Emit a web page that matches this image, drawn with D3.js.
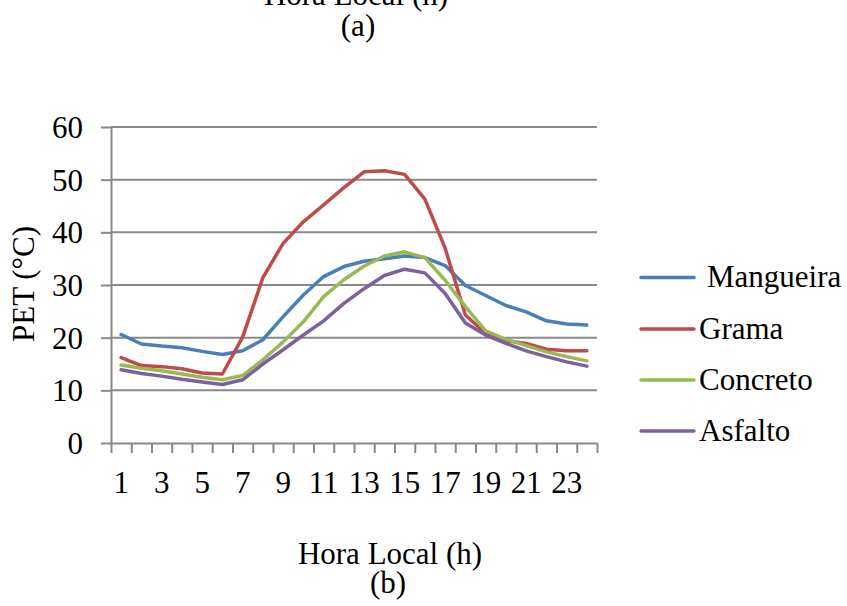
<!DOCTYPE html>
<html>
<head>
<meta charset="utf-8">
<script src="https://cdn.jsdelivr.net/npm/d3@7"></script>
<style>
  html, body { margin: 0; padding: 0; background: #fff; }
  svg { display: block; }
  text { font-family: "Liberation Serif", "Times New Roman", serif; fill: #000; }
</style>
</head>
<body>
<svg id="chart" width="847" height="606"></svg>
<script>
// ---- data ----
const hours = d3.range(1, 25);
const xTickLabels = [1, 3, 5, 7, 9, 11, 13, 15, 17, 19, 21, 23];
const yTicks = [0, 10, 20, 30, 40, 50, 60];
const seriesNames = ["Mangueira", "Grama", "Concreto", "Asfalto"];
const mangueira = [20.6, 18.8, 18.4, 18.1, 17.4, 16.8, 17.5, 19.6, 24.0, 28.1, 31.6, 33.5, 34.5, 35.0, 35.5, 35.2, 33.7, 29.9, 28.0, 26.1, 24.9, 23.2, 22.6, 22.4];
const grama     = [16.2, 14.7, 14.5, 14.1, 13.3, 13.1, 20.1, 31.4, 37.9, 42.0, 45.2, 48.5, 51.5, 51.7, 51.0, 46.3, 37.0, 24.3, 20.8, 19.4, 18.9, 17.8, 17.5, 17.5];
const concreto  = [14.8, 14.2, 13.7, 13.1, 12.5, 12.0, 12.8, 15.8, 19.2, 23.0, 27.8, 31.0, 33.6, 35.5, 36.3, 35.2, 30.9, 25.9, 21.3, 19.7, 18.5, 17.3, 16.4, 15.6];
const asfalto   = [13.9, 13.2, 12.7, 12.1, 11.6, 11.1, 12.0, 15.0, 17.7, 20.5, 23.2, 26.5, 29.3, 31.8, 33.0, 32.3, 28.4, 22.8, 20.5, 18.9, 17.5, 16.4, 15.4, 14.6];
const seriesColors = ["#4A7EBB", "#BE4B48", "#98B954", "#7D60A0"];
const seriesValues = [mangueira, grama, concreto, asfalto];

// ---- layout ----
const svg = d3.select("#chart");
const pLeft = 111, pRight = 597, pTop = 127, pBottom = 443;
const gridColor = "#898989";
const fs = 31;

const x = d3.scaleBand().domain(hours).range([pLeft, pRight]).padding(0);
const xEdge = d3.scaleLinear().domain([0.5, 24.5]).range([pLeft, pRight]);
const y = d3.scaleLinear().domain([0, 60]).range([pBottom, pTop]);
const cx = h => x(h) + x.bandwidth() / 2;

// gridlines
svg.append("g").selectAll("line").data(yTicks.filter(v => v > 0)).join("line")
  .attr("x1", pLeft).attr("x2", pRight)
  .attr("y1", d => y(d)).attr("y2", d => y(d))
  .attr("stroke", gridColor).attr("stroke-width", 2);

// y axis
const yAxis = svg.append("g").attr("transform", `translate(${pLeft},0)`)
  .call(d3.axisLeft(y).tickValues(yTicks).tickSize(10).tickSizeOuter(0).tickFormat(""));
yAxis.select(".domain").attr("stroke", gridColor).attr("stroke-width", 2);
yAxis.selectAll(".tick line").attr("stroke", gridColor).attr("stroke-width", 2);

svg.append("g").selectAll("text").data(yTicks).join("text")
  .attr("x", 83).attr("y", d => y(d)).attr("dy", "0.35em")
  .attr("text-anchor", "end").attr("font-size", fs)
  .text(d => d);

// x axis
const xAxis = svg.append("g").attr("transform", `translate(0,${pBottom})`)
  .call(d3.axisBottom(xEdge).tickValues(d3.range(0.5, 25, 1)).tickSize(10).tickSizeOuter(0).tickFormat(""));
xAxis.select(".domain").attr("stroke", gridColor).attr("stroke-width", 2);
xAxis.selectAll(".tick line").attr("stroke", gridColor).attr("stroke-width", 2);

svg.append("g").selectAll("text").data(xTickLabels).join("text")
  .attr("x", d => cx(d)).attr("y", 493)
  .attr("text-anchor", "middle").attr("font-size", fs)
  .text(d => d);

// lines
const line = d3.line().x((d, i) => cx(hours[i])).y(d => y(d));
svg.append("g").selectAll("path").data(seriesValues).join("path")
  .attr("d", d => line(d))
  .attr("fill", "none")
  .attr("stroke", (d, i) => seriesColors[i])
  .attr("stroke-width", 3.5)
  .attr("stroke-linejoin", "round")
  .attr("stroke-linecap", "round");

// legend
const legY = [277.5, 329, 380, 431];
const legTextX = [707, 699, 699, 699];
const leg = svg.append("g").selectAll("g").data(seriesNames).join("g");
leg.append("line")
  .attr("x1", 641).attr("x2", 694)
  .attr("y1", (d, i) => legY[i]).attr("y2", (d, i) => legY[i])
  .attr("stroke", (d, i) => seriesColors[i]).attr("stroke-width", 3.5)
  .attr("stroke-linecap", "round");
leg.append("text")
  .attr("x", (d, i) => legTextX[i]).attr("y", (d, i) => legY[i] + 9.5)
  .attr("font-size", fs)
  .text(d => d);

// axis titles
svg.append("text")
  .attr("transform", "translate(34,284) rotate(-90)")
  .attr("text-anchor", "middle").attr("font-size", fs)
  .text("PET (°C)");

svg.append("text").attr("x", 390).attr("y", 564)
  .attr("text-anchor", "middle").attr("font-size", fs)
  .text("Hora Local (h)");
svg.append("text").attr("x", 388).attr("y", 593)
  .attr("text-anchor", "middle").attr("font-size", fs)
  .text("(b)");

// top caption (from previous panel, partially cut off)
svg.append("text").attr("x", 356).attr("y", 5)
  .attr("text-anchor", "middle").attr("font-size", fs)
  .text("Hora Local (h)");
svg.append("text").attr("x", 358).attr("y", 36)
  .attr("text-anchor", "middle").attr("font-size", fs)
  .text("(a)");
</script>
</body>
</html>
